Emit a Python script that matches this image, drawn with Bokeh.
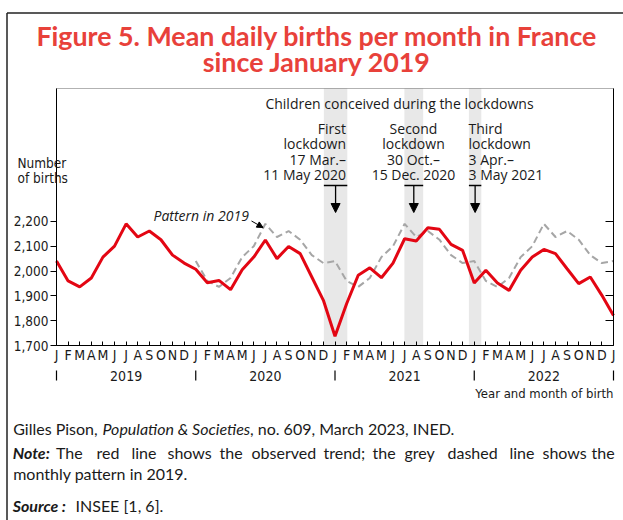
from bokeh.plotting import figure
from bokeh.models import (Range1d, LinearAxis, FixedTicker, NumeralTickFormatter,
                          BoxAnnotation, Label, Arrow, NormalHead)
from bokeh.embed import file_html
from bokeh.resources import INLINE

# ---------------- data ----------------
month_index = list(range(49))  # Jan 2019 .. Jan 2023
births = [2040, 1960, 1936, 1972, 2056, 2100, 2190, 2137, 2161, 2126, 2064, 2032,
          2007, 1953, 1962, 1925, 2005, 2056, 2125, 2050, 2099, 2070, 1976, 1882,
          1737, 1868, 1983, 2013, 1973, 2032, 2130, 2121, 2174, 2168, 2107, 2083,
          1952, 2003, 1952, 1922, 2003, 2056, 2087, 2070, 2009, 1949, 1976, 1902,
          1821]
pattern_months = list(range(12, 49))  # Jan 2020 .. Jan 2023
pattern_2019 = [2040, 1960, 1936, 1972, 2056, 2100, 2190, 2137, 2161, 2126, 2064, 2032,
                2040, 1960, 1936, 1972, 2056, 2100, 2190, 2137, 2161, 2126, 2064, 2032,
                2040, 1960, 1936, 1972, 2056, 2100, 2190, 2137, 2161, 2126, 2064, 2032,
                2040]
month_letters = ["J", "F", "M", "A", "M", "J", "J", "A", "S", "O", "N", "D"]
tick_labels = month_letters * 4 + ["J"]
year_labels = ["2019", "2020", "2021", "2022"]
year_centers = [6, 18, 30, 42]
year_starts = [0, 12, 24, 36, 48]
y_ticks = [1700, 1800, 1900, 2000, 2100, 2200]
right_ticks = [1800, 1900, 2000, 2100, 2200]
lockdown_start = [23.04, 29.98, 35.54]
lockdown_end = [25.06, 31.60, 36.61]
lockdown_texts = [["First", "lockdown", "17 Mar.\u2013", "11 May 2020"],
                  ["Second", "lockdown", "30 Oct.\u2013", "15 Dec. 2020"],
                  ["Third", "lockdown", "3 Apr.\u2013", "3 May 2021"]]
note_words = ["The", "red", "line", "shows", "the", "observed", "trend;", "the", "grey",
              "dashed", "line", "shows", "the"]

# ---------------- geometry (page pixels) ----------------
W, H = 623, 520
FL, FR, FT, FB = 56, 613, 88, 345      # plot area on the page
X0, X1 = 0, 48
Y0 = 1700
PX_PER_100 = 24.83
Y1 = Y0 + (FB - FT) / PX_PER_100 * 100


def dx(X):
    return X0 + (X - FL) / (FR - FL) * (X1 - X0)


def dy(Y):
    return Y0 + (FB - Y) / (FB - FT) * (Y1 - Y0)


def mx(m):
    return FL + m * (FR - FL) / (X1 - X0)


NARROW = "DejaVu Sans Condensed"
SANS = "Open Sans"
FOOT = "Lato"
TXT = "#1a1a1a"

p = figure(width=W, height=H, x_range=Range1d(dx(0), dx(W)), y_range=Range1d(dy(H), dy(0)),
           output_backend="svg", toolbar_location=None, title=None,
           min_border_left=0, min_border_right=0, min_border_top=0, min_border_bottom=0)
p.xgrid.visible = False
p.ygrid.visible = False
p.outline_line_color = None
p.background_fill_color = "white"
p.border_fill_color = "white"

xa = p.xaxis[0]
xa.fixed_location = Y0
xa.bounds = (X0, X1)
xa.ticker = FixedTicker(ticks=month_index)
xa.major_label_overrides = {i: t for i, t in zip(month_index, tick_labels)}
xa.major_tick_in = 4
xa.major_tick_out = 0
xa.minor_tick_line_color = None
xa.major_label_standoff = 1
xa.major_label_text_font = NARROW
xa.major_label_text_font_size = "14px"
xa.major_label_text_color = TXT
xa.axis_line_color = "#000000"
xa.major_tick_line_color = "#000000"

ya = p.yaxis[0]
ya.fixed_location = X0
ya.bounds = (Y0, Y1)
ya.ticker = FixedTicker(ticks=y_ticks)
ya.formatter = NumeralTickFormatter(format="0,0")
ya.major_tick_in = 0
ya.major_tick_out = 6
ya.minor_tick_line_color = None
ya.major_label_standoff = 2
ya.major_label_text_font = NARROW
ya.major_label_text_font_size = "13.5px"
ya.major_label_text_color = TXT
ya.axis_line_color = "#000000"
ya.major_tick_line_color = "#000000"

ra = LinearAxis(fixed_location=X1, bounds=(Y0, Y1),
                ticker=FixedTicker(ticks=right_ticks), major_tick_in=8, major_tick_out=0,
                minor_tick_line_color=None, axis_line_color="#000000",
                major_label_overrides={t: "" for t in right_ticks},
                major_label_text_font_size="1px", major_label_standoff=0,
                major_tick_line_color="#000000")
p.add_layout(ra, "right")

# plot-area frame
p.add_layout(BoxAnnotation(left=X0, right=X1, bottom=Y0, top=Y1, fill_alpha=0,
                           line_color="#000000", line_width=1, level="overlay"))

# lockdown bands
for s, e in zip(lockdown_start, lockdown_end):
    p.add_layout(BoxAnnotation(left=s, right=e, bottom=Y0, top=Y1, fill_color="#e8e8e8",
                               fill_alpha=1, line_alpha=0, level="underlay"))

# series
p.line(pattern_months, pattern_2019, line_color="#a6a6a6", line_width=2, line_dash="7 4")
p.line(month_index, births, line_color="#e30613", line_width=3)


def label(X, Y, text, font=SANS, size="14px", align="left", style="normal", color=TXT):
    # Y is the visual middle of the text line on the page
    p.add_layout(Label(x=dx(X), y=dy(Y), text=text, text_font=font, text_font_size=size,
                       text_align=align, text_baseline="middle", text_font_style=style,
                       text_color=color))


def seg(Xa, Ya, Xb, Yb, width=1, color="#000000", head=None):
    p.add_layout(Arrow(x_start=dx(Xa), y_start=dy(Ya), x_end=dx(Xb), y_end=dy(Yb),
                       start=None, end=head, line_color=color, line_width=width))


# outer box
seg(6.5, 12.5, 640, 12.5, width=1.5, color="#222222")
seg(6.5, 12.5, 6.5, 540, width=1.5, color="#222222")

# title
TITLE_C = "#e8413a"
label(316.5, 35, "Figure 5. Mean daily births per month in France", font="Lato", size="26.8px",
      align="center", style="bold", color=TITLE_C)
label(316.5, 61, "since January 2019", font="Lato", size="26.8px",
      align="center", style="bold", color=TITLE_C)

# y axis title
label(17, 162, "Number", font=NARROW, size="13.5px")
label(17, 177, "of births", font=NARROW, size="13.5px")

# lockdown annotations
label(399, 102.5, "Children conceived during the lockdowns", size="14px", align="center")
centers = [128, 143.3, 158.6, 173.6]
anchors = [(345.5, "right"), (413, "center"), (468, "left")]
for lines, (ax, al) in zip(lockdown_texts, anchors):
    for t, c in zip(lines, centers):
        label(ax, c, t, size="14px", align=al)

for s, e in zip(lockdown_start, lockdown_end):
    xl, xr = mx(s), mx(e)
    xc = (xl + xr) / 2
    seg(xl, 185, xr, 185, width=1.3)
    seg(xc, 185, xc, 212, width=1.3,
        head=NormalHead(size=9, fill_color="#000000", line_color="#000000"))

# pattern annotation
label(153, 215, "Pattern in 2019", size="14px", style="italic")
seg(251, 220.5, 262.5, 227, width=1,
    head=NormalHead(size=6, fill_color="#000000", line_color="#000000"))

# year row
for xs in year_starts:
    seg(mx(xs), 370, mx(xs), 380, width=1.2)
for xc, yl in zip(year_centers, year_labels):
    label(mx(xc), 375, yl, font=NARROW, size="14px", align="center")
label(613, 393, "Year and month of birth", font=NARROW, size="13px", align="right")

# footer
FS = "16px"
label(12.7, 427.5, "Gilles Pison,", font=FOOT, size=FS)
label(102, 427.5, "Population & Societies", font=FOOT, size=FS, style="italic")
label(249.5, 427.5, ", no. 609, March 2023, INED.", font=FOOT, size=FS)
label(12.2, 452, "Note:", font=FOOT, size=FS, style="bold italic")
word_x = [55.5, 96, 131, 167, 219, 251, 323, 372, 404, 447, 509, 542, 591]
for w, xw in zip(note_words, word_x):
    label(xw, 452, w, font=FOOT, size=FS)
label(12.7, 472.5, "monthly pattern in 2019.", font=FOOT, size=FS)
label(12.2, 505, "Source :", font=FOOT, size=FS, style="bold italic")
label(75, 505, "INSEE [1, 6].", font=FOOT, size=FS)

open("out.html", "w").write(file_html(p, INLINE))
